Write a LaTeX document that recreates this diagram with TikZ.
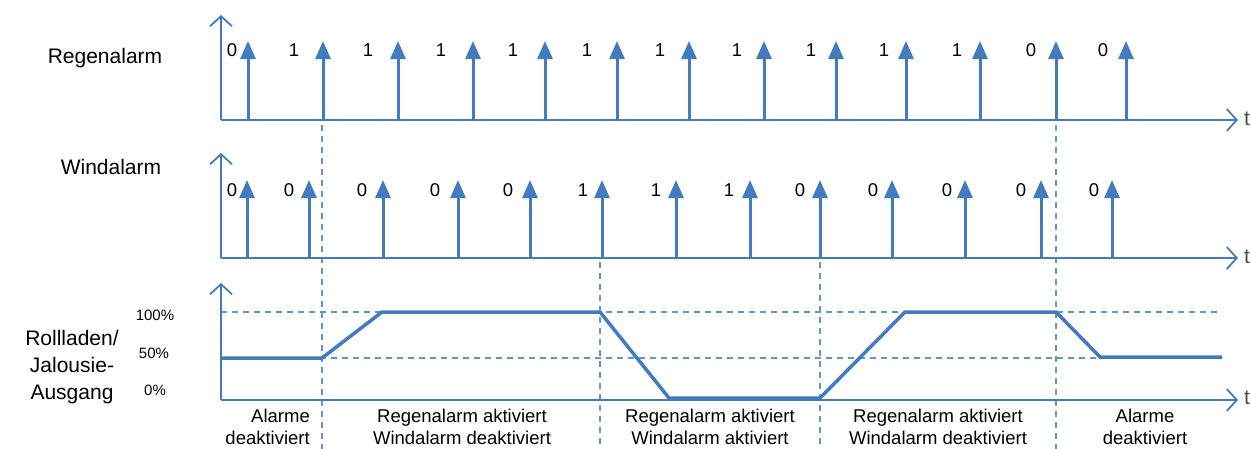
\documentclass[tikz,border=0pt]{standalone}
\usepackage{fontspec}
\setmainfont{Liberation Sans}
\usetikzlibrary{arrows.meta}
\definecolor{sigblue}{RGB}{66,124,190}
\definecolor{dashblue}{RGB}{96,150,205}
\tikzset{
  axisline/.style={draw=sigblue, line width=1.8pt, -{Straight Barb[length=10pt,width=22pt,line width=1.8pt]}},
  stem/.style={draw=sigblue, line width=3pt, -{Triangle[length=18pt,width=15pt]}},
  guide/.style={draw=dashblue, line width=1.3pt, dash pattern=on 6pt off 5pt},
  curve/.style={draw=sigblue, line width=3.5pt, line join=miter},
  val/.style={font=\fontsize{18.5}{20}\selectfont, inner sep=0pt},
  side/.style={font=\fontsize{21}{27}\selectfont, inner sep=0pt, align=center},
  pct/.style={font=\fontsize{15}{17}\selectfont, inner sep=0pt},
  phase/.style={font=\fontsize{18.5}{22}\selectfont, inner sep=0pt, align=center},
  tlab/.style={font=\fontsize{21}{22}\selectfont, text=black!70, inner sep=0pt, anchor=west}
}
\begin{document}
\begin{tikzpicture}[x=1pt,y=-1pt]
\useasboundingbox (0,0) rectangle (1251,448);

% ---------- guide lines ----------
\coordinate (g1t) at (322,125);  \coordinate (g1b) at (322,452);
\coordinate (g2t) at (600,262);  \coordinate (g2b) at (600,452);
\coordinate (g3t) at (820,262);  \coordinate (g3b) at (820,452);
\coordinate (g4t) at (1056,125); \coordinate (g4b) at (1056,452);
\draw[guide] (g1t) -- (g1b);
\draw[guide] (g2t) -- (g2b);
\draw[guide] (g3t) -- (g3b);
\draw[guide] (g4t) -- (g4b);
\coordinate (h100a) at (221,312); \coordinate (h100b) at (1222,312);
\coordinate (h50a) at (221,358);  \coordinate (h50b) at (1222,358);
\draw[guide] (h100a) -- (h100b);
\draw[guide] (h50a) -- (h50b);

% ---------- Regenalarm ----------
\node[side] (lregen) at (105,58) {Regenalarm};
\coordinate (o1) at (221,120);
\coordinate (y1) at (221,15);
\coordinate (x1) at (1238,120);
\draw[axisline] (o1) -- (y1);
\draw[axisline] (o1) -- (x1);
\node[tlab] (t1) at (1244,119) {t};
\foreach \xa/\xl/\v [count=\i] in {248/232/0,323/294/1,398/368/1,473/441/1,545/513/1,617/587/1,689/660/1,764/737/1,836/811/1,906/884/1,980/957/1,1056/1031/0,1126/1103/0}{
  \coordinate (rb\i) at (\xa,120);
  \coordinate (rt\i) at (\xa,41);
  \draw[stem] (rb\i) -- (rt\i);
  \node[val] (rv\i) at (\xl,50) {\v};
}

% ---------- Windalarm ----------
\node[side] (lwind) at (111,167) {Windalarm};
\coordinate (o2) at (221,258);
\coordinate (y2) at (221,153);
\coordinate (x2) at (1238,258);
\draw[axisline] (o2) -- (y2);
\draw[axisline] (o2) -- (x2);
\node[tlab] (t2) at (1244,257) {t};
\foreach \xa/\xl/\v [count=\i] in {247/232/0,309/289/0,383/362/0,458/435/0,530/508/0,602/583/1,676/656/1,750/729/1,820/800/0,892/873/0,965/947/0,1041/1021/0,1112/1094/0}{
  \coordinate (wb\i) at (\xa,258);
  \coordinate (wt\i) at (\xa,180);
  \draw[stem] (wb\i) -- (wt\i);
  \node[val] (wv\i) at (\xl,190) {\v};
}

% ---------- Ausgang ----------
\node[side] (lout) at (72,367) {Rollladen/\\Jalousie-\\Ausgang};
\node[pct] (p100) at (155,315) {100\%};
\node[pct] (p50) at (154,353) {50\%};
\node[pct] (p0) at (155,390) {0\%};
\coordinate (o3) at (221,400);
\coordinate (y3) at (221,283);
\coordinate (x3) at (1238,400);
\draw[axisline] (o3) -- (y3);
\draw[axisline] (o3) -- (x3);
\node[tlab] (t3) at (1244,398) {t};
\draw[curve] (221,358) -- (322,358) -- (382,312) -- (600,312) -- (669,398)
  -- (820,398) -- (905,312) -- (1056,312) -- (1100,357) -- (1222,357);

% ---------- phase labels ----------
\node[phase, anchor=north east, align=right] (ph1) at (310,409) {Alarme\\deaktiviert};
\node[phase, anchor=north] (ph2) at (462,409) {Regenalarm aktiviert\\Windalarm deaktiviert};
\node[phase, anchor=north] (ph3) at (710,409) {Regenalarm aktiviert\\Windalarm aktiviert};
\node[phase, anchor=north] (ph4) at (938,409) {Regenalarm aktiviert\\Windalarm deaktiviert};
\node[phase, anchor=north] (ph5) at (1145,409) {Alarme\\deaktiviert};
\end{tikzpicture}
\end{document}
